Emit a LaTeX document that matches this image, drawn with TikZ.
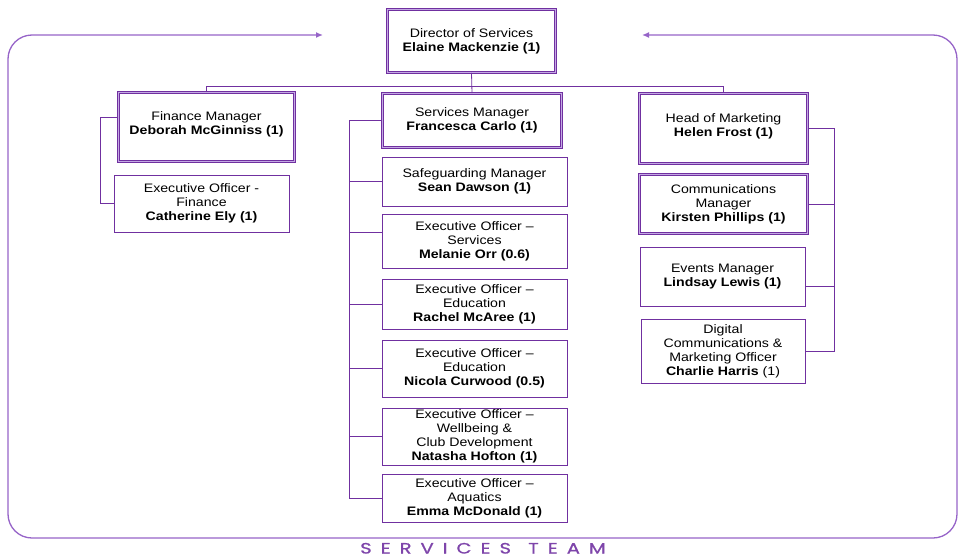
\documentclass[tikz,border=0pt]{standalone}
\usepackage{fontspec}
\setmainfont[FakeStretch=1.15]{Liberation Sans}
\newfontfamily\teamfont[LetterSpace=60,FakeBold=1,FakeStretch=1.3]{Poppins}
\usetikzlibrary{arrows.meta}

\definecolor{purp}{RGB}{112,48,160}
\definecolor{lilac}{RGB}{196,168,228}
\definecolor{frame}{RGB}{150,100,200}

\tikzset{
  box/.style={draw=purp, line width=0.7pt, fill=white, align=center,
    inner sep=0pt, font=\fontsize{12.3}{14}\selectfont},
  dbox/.style={box, double=lilac, double distance=1.4pt},
  link/.style={draw=purp, line width=0.8pt}
}

\begin{document}
\begin{tikzpicture}[x=1pt,y=-1pt]
\useasboundingbox (0,0) rectangle (964,557);

% outer frame
\draw[frame, line width=1.3pt, rounded corners=24pt,
  {Latex[length=7pt,width=6pt]}-{Latex[length=7pt,width=6pt]}]
  (323,35) -- (8,35) -- (8,538) -- (957,538) -- (957,35) -- (642,35);

\node[anchor=base, inner sep=0pt, text=purp!90!white] (team) at (483,553.5)
  {\teamfont\fontsize{15}{15}\selectfont SERVICES\hspace{3pt} TEAM};

% top level
\node[dbox, minimum width=168, minimum height=63] (dir) at (471.5,41)
  {Director of Services\\ \textbf{Elaine Mackenzie (1)}};

\node[dbox, minimum width=176, minimum height=69] (fin) at (206.5,127)
  {Finance Manager\\ \textbf{Deborah McGinniss (1)}\\[-6pt]};
\node[dbox, minimum width=179, minimum height=54] (sm) at (472,120.5)
  {Services Manager\\ \textbf{Francesca Carlo (1)}};
\node[dbox, minimum width=168, minimum height=70] (hom) at (723.5,128.5)
  {Head of Marketing\\ \textbf{Helen Frost (1)}\\[-8pt]};

% finance
\node[box, minimum width=175, minimum height=57] (efin) at (201.5,203.5)
  {Executive Officer -\\ Finance\\ \textbf{Catherine Ely (1)}};

% services
\node[box, minimum width=185, minimum height=49] (safe) at (474.5,181.5)
  {Safeguarding Manager\\ \textbf{Sean Dawson (1)}};
\node[box, minimum width=185, minimum height=54] (eserv) at (474.5,241)
  {Executive Officer --\\ Services\\ \textbf{Melanie Orr (0.6)}};
\node[box, minimum width=185, minimum height=50] (eedu) at (474.5,304.5)
  {Executive Officer --\\ Education\\ \textbf{Rachel McAree (1)}};
\node[box, minimum width=185, minimum height=57] (ecur) at (474.5,368.5)
  {Executive Officer --\\ Education\\ \textbf{Nicola Curwood (0.5)}};
\node[box, minimum width=185, minimum height=57] (ewell) at (474.5,436.5)
  {Executive Officer --\\ Wellbeing \&\\ Club Development\\ \textbf{Natasha Hofton (1)}};
\node[box, minimum width=185, minimum height=48] (eaqua) at (474.5,498)
  {Executive Officer --\\ Aquatics\\ \textbf{Emma McDonald (1)}};

% marketing
\node[dbox, minimum width=168, minimum height=59] (comms) at (723.5,204)
  {Communications\\ Manager\\ \textbf{Kirsten Phillips (1)}};
\node[box, minimum width=165, minimum height=59] (events) at (722.5,276.5)
  {Events Manager\\ \textbf{Lindsay Lewis (1)}};
\node[box, minimum width=164, minimum height=64] (digi) at (723,351)
  {Digital\\ Communications \&\\ Marketing Officer\\ \textbf{Charlie Harris} (1)};

% connectors
\coordinate (sbus) at (349,0);
\coordinate (mbus) at (834,0);

\draw[link] (dir.south) -- (sm.north);
\draw[link] (fin.north) -- ++(0,-6) -| (hom.north);

\draw[link] ([yshift=10pt]fin.west) -- ++(-18,0) |- (efin.west);

\draw[link] (sm.west) -| (sbus |- eaqua.west) -- (eaqua.west);
\foreach \n in {safe,eedu,ecur,ewell}
  \draw[link] (\n.west) -- (\n.west -| sbus);
\draw[link] ([yshift=9pt]eserv.west) -- ([yshift=9pt]eserv.west -| sbus);

\draw[link] (hom.east) -| (mbus |- digi.east) -- (digi.east);
\draw[link] (comms.east) -- ++(27,0);
\draw[link] ([yshift=-10pt]events.east) -- ([yshift=-10pt]events.east -| mbus);

\end{tikzpicture}
\end{document}
